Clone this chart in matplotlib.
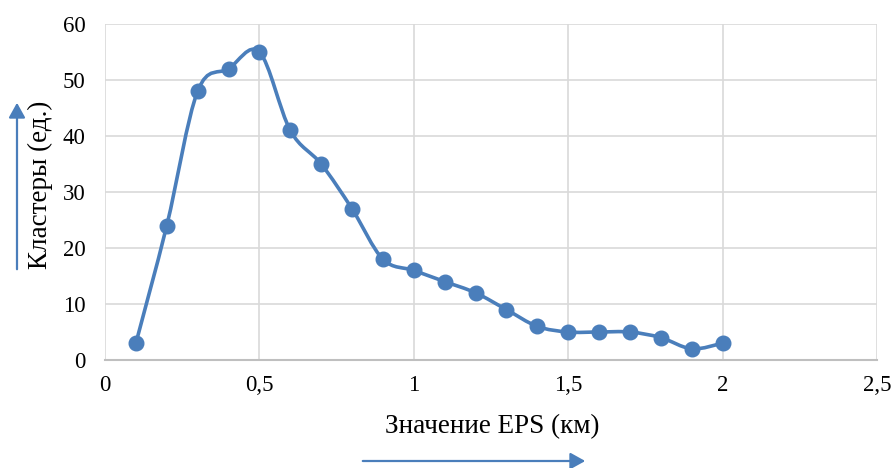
import numpy as np
import matplotlib
matplotlib.use('Agg')
import matplotlib.pyplot as plt
from matplotlib.path import Path
from matplotlib.patches import PathPatch, FancyArrowPatch

eps = [0.1, 0.2, 0.3, 0.4, 0.5, 0.6, 0.7, 0.8, 0.9, 1.0,
       1.1, 1.2, 1.3, 1.4, 1.5, 1.6, 1.7, 1.8, 1.9, 2.0]
clusters = [3, 24, 48, 52, 55, 41, 35, 27, 18, 16,
            14, 12, 9, 6, 5, 5, 5, 4, 2, 3]
xticks = [0, 0.5, 1, 1.5, 2, 2.5]
xticklabels = ['0', '0,5', '1', '1,5', '2', '2,5']
yticks = [0, 10, 20, 30, 40, 50, 60]

blue = '#4a7ebb'
plt.rcParams['font.family'] = ['Liberation Serif', 'DejaVu Serif']

fig = plt.figure(figsize=(8.93, 4.68), dpi=100)
ax = fig.add_axes([105 / 893, 1 - 360 / 468, 772 / 893, 336 / 468])

# Excel-like smoothed line (Catmull-Rom as cubic bezier)
x = np.array(eps, dtype=float)
y = np.array(clusters, dtype=float)
verts = [(x[0], y[0])]
codes = [Path.MOVETO]
n = len(x)
for i in range(n - 1):
    p0 = (x[max(i - 1, 0)], y[max(i - 1, 0)])
    p1 = (x[i], y[i])
    p2 = (x[i + 1], y[i + 1])
    p3 = (x[min(i + 2, n - 1)], y[min(i + 2, n - 1)])
    c1 = (p1[0] + (p2[0] - p0[0]) / 6, p1[1] + (p2[1] - p0[1]) / 6)
    c2 = (p2[0] - (p3[0] - p1[0]) / 6, p2[1] - (p3[1] - p1[1]) / 6)
    verts += [c1, c2, p2]
    codes += [Path.CURVE4] * 3
ax.add_patch(PathPatch(Path(verts, codes), facecolor='none', edgecolor=blue,
                       lw=2.6, capstyle='round', joinstyle='round', zorder=3))
ax.plot(eps, clusters, linestyle='none', marker='o', ms=10.5, color=blue, zorder=4)

ax.set_xlim(0, 2.5)
ax.set_ylim(0, 60)
ax.set_xticks(xticks)
ax.set_xticklabels(xticklabels)
ax.set_yticks(yticks)
ax.grid(True, color='#d9d9d9', lw=1.2)
ax.set_axisbelow(True)
for s in ['top', 'right', 'left']:
    ax.spines[s].set_visible(False)
ax.spines['bottom'].set_color('#bfbfbf')
ax.spines['bottom'].set_linewidth(1.5)
ax.tick_params(length=0, labelsize=16.5, pad=11, colors='black')
ax.tick_params(axis='y', pad=14)

fig.text(40 / 893, 1 - 185 / 468, 'Кластеры (ед.)', rotation=90,
         ha='center', va='center', fontsize=19.5)
fig.text(492 / 893, 1 - 427 / 468, 'Значение EPS (км)',
         ha='center', va='center', fontsize=19.5)

fig.patches.append(FancyArrowPatch((17 / 893, 1 - 272 / 468), (17 / 893, 1 - 100 / 468),
                                   transform=fig.transFigure, arrowstyle='-|>,head_length=9,head_width=5',
                                   color=blue, lw=1.6, mutation_scale=1))
fig.patches.append(FancyArrowPatch((360 / 893, 1 - 461 / 468), (588 / 893, 1 - 461 / 468),
                                   transform=fig.transFigure, arrowstyle='-|>,head_length=9,head_width=5',
                                   color=blue, lw=1.6, mutation_scale=1))

fig.savefig('out.png', dpi=100)
